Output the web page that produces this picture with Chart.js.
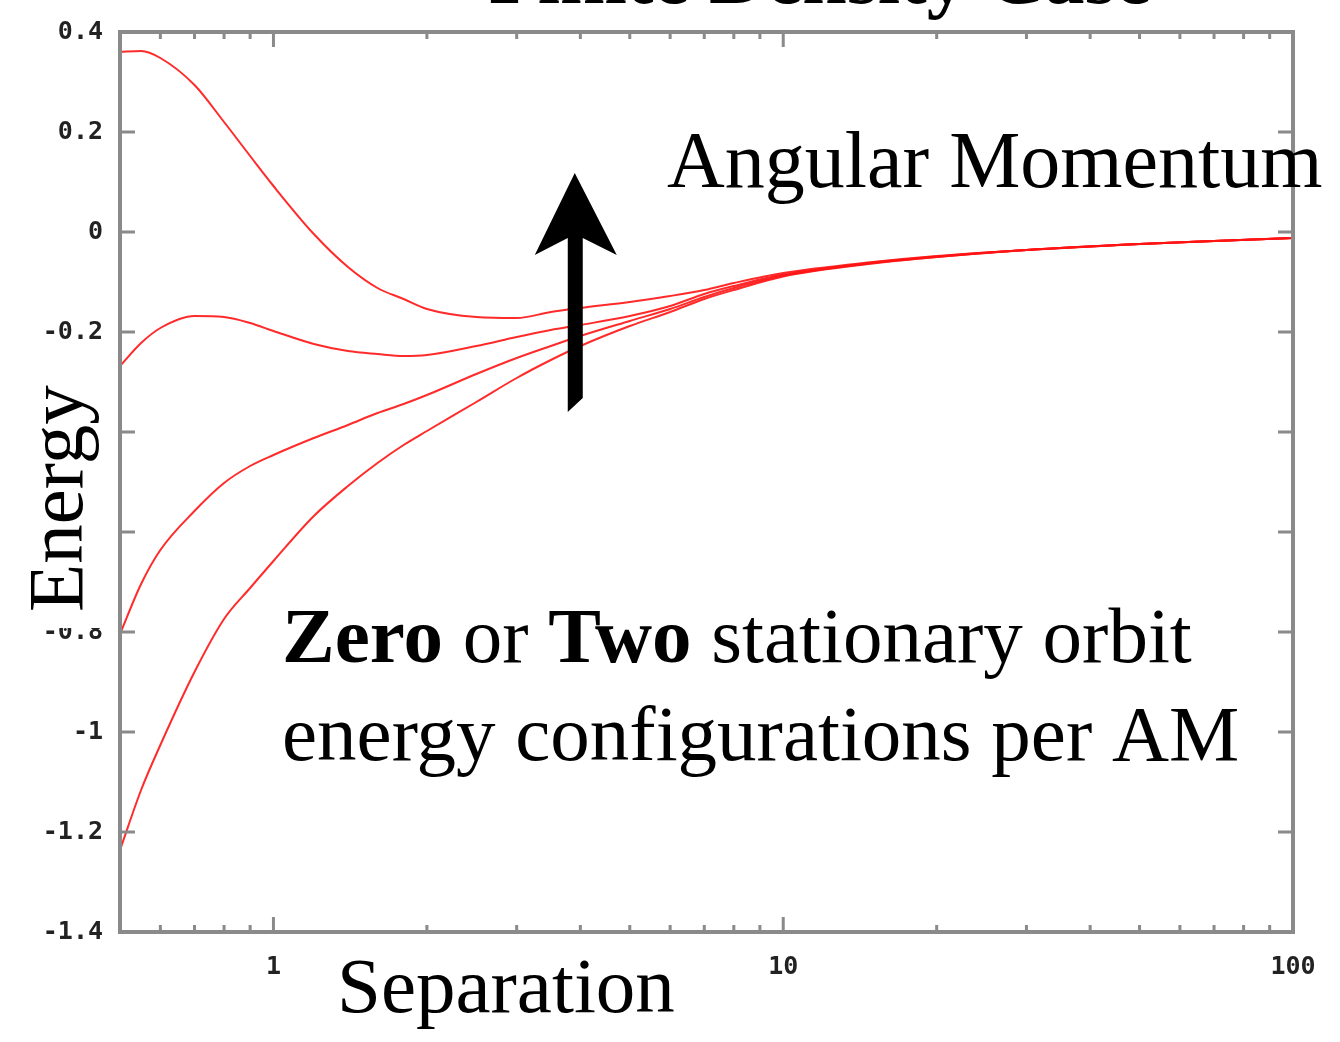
<!DOCTYPE html>
<html>
<head>
<meta charset="utf-8">
<title>Finite Density Case</title>
<script src="https://cdn.jsdelivr.net/npm/chart.js@4/dist/chart.umd.min.js"></script>
<style>
  html, body { margin: 0; padding: 0; background: #fff; }
  #wrap { width: 1340px; height: 1042px; }
</style>
</head>
<body>
<div id="wrap"><canvas id="chart" width="1340" height="1042"></canvas></div>
<script>
// separation values (log axis) and the four energy curves
const separation = [0.5, 0.55, 0.6, 0.7, 0.8, 0.9, 1, 1.2, 1.4, 1.6, 1.8, 2, 2.5, 3, 3.5, 4, 5, 6, 7, 8, 10, 15, 20, 30, 50, 70, 100];
const energyA = [0.36, 0.362, 0.348, 0.294, 0.22, 0.152, 0.092, -0.004, -0.07, -0.112, -0.134, -0.154, -0.17, -0.172, -0.16, -0.152, -0.14, -0.128, -0.116, -0.102, -0.082, -0.06, -0.048, -0.036, -0.024, -0.018, -0.012];
const energyB = [-0.268, -0.222, -0.192, -0.168, -0.17, -0.182, -0.198, -0.224, -0.238, -0.244, -0.248, -0.246, -0.228, -0.21, -0.196, -0.186, -0.168, -0.148, -0.124, -0.108, -0.085, -0.061, -0.049, -0.036, -0.024, -0.018, -0.012];
const energyC = [-0.804, -0.704, -0.636, -0.558, -0.502, -0.468, -0.446, -0.412, -0.386, -0.362, -0.344, -0.326, -0.284, -0.252, -0.228, -0.208, -0.178, -0.154, -0.13, -0.112, -0.087, -0.062, -0.05, -0.036, -0.024, -0.018, -0.012];
const energyD = [-1.236, -1.116, -1.026, -0.88, -0.774, -0.712, -0.658, -0.568, -0.508, -0.462, -0.426, -0.398, -0.34, -0.292, -0.256, -0.228, -0.188, -0.16, -0.134, -0.116, -0.089, -0.063, -0.05, -0.036, -0.024, -0.018, -0.012];

const xLabels = [1, 10, 100];
const xMinor = [0.6, 0.7, 0.8, 0.9, 2, 3, 4, 5, 6, 7, 8, 9, 20, 30, 40, 50, 60, 70, 80, 90];

// arrow position in data units
const arrowX = 3.9;
const arrowTop = 0.118;
const arrowBottom = -0.36;

const serif = "'Liberation Serif', 'Times New Roman', serif";

function toPoints(ys) {
  return separation.map((x, i) => ({ x: x, y: ys[i] }));
}

function curve(ys) {
  return {
    data: toPoints(ys),
    borderColor: 'rgba(255, 20, 20, 0.9)',
    borderWidth: 2,
    pointRadius: 0,
    fill: false,
    cubicInterpolationMode: 'monotone'
  };
}

const decorations = {
  id: 'decorations',
  afterDatasetsDraw(chart) {
    const ctx = chart.ctx;
    const a = chart.chartArea;
    const xs = chart.scales.x;
    const ys = chart.scales.y;
    ctx.save();

    // inward tick marks
    ctx.strokeStyle = '#8a8a8a';
    ctx.lineWidth = 3;
    ctx.beginPath();
    ys.ticks.forEach(t => {
      const py = ys.getPixelForValue(t.value);
      ctx.moveTo(a.left, py); ctx.lineTo(a.left + 15, py);
      ctx.moveTo(a.right, py); ctx.lineTo(a.right - 15, py);
    });
    xLabels.forEach(v => {
      const px = xs.getPixelForValue(v);
      ctx.moveTo(px, a.bottom); ctx.lineTo(px, a.bottom - 15);
      ctx.moveTo(px, a.top); ctx.lineTo(px, a.top + 15);
    });
    xMinor.forEach(v => {
      const px = xs.getPixelForValue(v);
      ctx.moveTo(px, a.bottom); ctx.lineTo(px, a.bottom - 7);
      ctx.moveTo(px, a.top); ctx.lineTo(px, a.top + 7);
    });
    ctx.stroke();

    // frame
    ctx.lineWidth = 4;
    ctx.strokeRect(a.left, a.top, a.right - a.left, a.bottom - a.top);

    // arrow
    const cx = xs.getPixelForValue(arrowX);
    const tip = ys.getPixelForValue(arrowTop);
    const bot = ys.getPixelForValue(arrowBottom);
    ctx.fillStyle = '#000';
    ctx.beginPath();
    ctx.moveTo(cx, tip);
    ctx.lineTo(cx + 42, tip + 82);
    ctx.lineTo(cx + 8, tip + 65);
    ctx.lineTo(cx + 8, bot - 14);
    ctx.lineTo(cx - 7, bot);
    ctx.lineTo(cx - 7, tip + 65);
    ctx.lineTo(cx - 40, tip + 82);
    ctx.closePath();
    ctx.fill();
    ctx.restore();
  },
  afterDraw(chart) {
    const ctx = chart.ctx;
    ctx.save();
    ctx.fillStyle = '#000';
    ctx.textBaseline = 'alphabetic';

    // title, mostly cut off at the top
    ctx.font = 'bold 80px ' + serif;
    ctx.textAlign = 'center';
    ctx.fillText('Finite Density Case', 820, 3);

    ctx.textAlign = 'left';
    ctx.font = '80px ' + serif;
    ctx.fillText('Angular Momentum', 667, 187);
    ctx.font = '79px ' + serif;
    ctx.fillText('Separation', 337, 1012);

    // two-line note with bold words
    let x = 282;
    const parts = [['Zero', true], [' or ', false], ['Two', true], [' stationary orbit', false]];
    parts.forEach(p => {
      ctx.font = (p[1] ? 'bold ' : '') + '79px ' + serif;
      ctx.fillText(p[0], x, 662);
      x += ctx.measureText(p[0]).width;
    });
    ctx.font = '79px ' + serif;
    ctx.fillText('energy configurations per AM', 282, 760);

    // y title on a white patch that hides some tick labels
    ctx.fillStyle = '#fff';
    ctx.fillRect(0, 365, 112, 263);
    ctx.fillStyle = '#000';
    ctx.translate(82, 612);
    ctx.rotate(-Math.PI / 2);
    ctx.fillText('Energy', 0, 0);
    ctx.restore();
  }
};

new Chart(document.getElementById('chart'), {
  type: 'line',
  data: {
    datasets: [curve(energyA), curve(energyB), curve(energyC), curve(energyD)]
  },
  options: {
    responsive: false,
    animation: false,
    layout: { padding: { top: 32, right: 47, left: 0, bottom: 0 } },
    plugins: {
      legend: { display: false },
      tooltip: { enabled: false }
    },
    scales: {
      x: {
        type: 'logarithmic',
        min: 0.5,
        max: 100,
        grid: { display: false, drawTicks: false },
        border: { display: false },
        afterBuildTicks: s => { s.ticks = xLabels.map(v => ({ value: v })); },
        afterFit: s => { s.height = 110; },
        ticks: {
          padding: 20,
          maxRotation: 0,
          color: '#222',
          font: { family: "'DejaVu Sans Mono', monospace", size: 25, weight: 'bold' },
          callback: v => String(v)
        }
      },
      y: {
        type: 'linear',
        min: -1.4,
        max: 0.4,
        grid: { display: false, drawTicks: false },
        border: { display: false },
        afterFit: s => { s.width = 120; },
        ticks: {
          stepSize: 0.2,
          padding: 17,
          color: '#222',
          font: { family: "'DejaVu Sans Mono', monospace", size: 25, weight: 'bold' },
          callback: v => String(Math.round(v * 10) / 10)
        }
      }
    }
  },
  plugins: [decorations]
});
</script>
</body>
</html>
